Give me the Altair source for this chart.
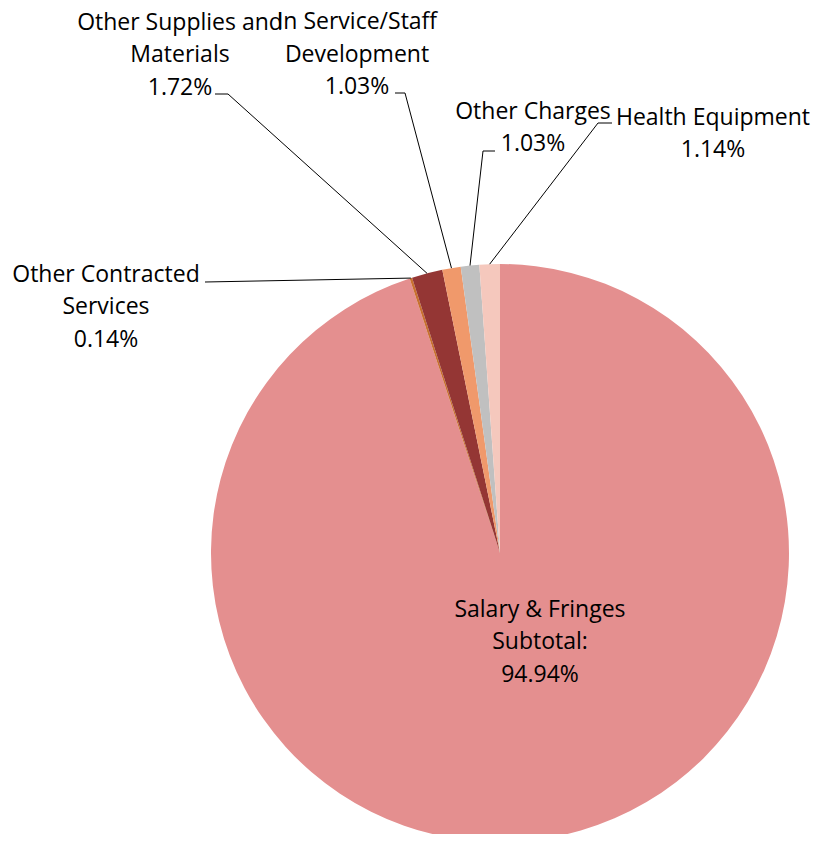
import math
import altair as alt
import pandas as pd

# ---- data ----
categories = ["Salary & Fringes Subtotal:", "Other Contracted Services",
              "Other Supplies and Materials", "In Service/Staff Development",
              "Other Charges", "Health Equipment"]
values = [94.94, 0.14, 1.72, 1.03, 1.03, 1.14]
colors = ["#E48F8F", "#C8702F", "#943634", "#F0996B", "#C0C0C0", "#F5C8BD"]

# label text lines
label_lines = [
    ["Salary & Fringes", "Subtotal:", "94.94%"],
    ["Other Contracted", "Services", "0.14%"],
    ["Other Supplies and", "Materials", "1.72%"],
    ["In Service/Staff", "Development", "1.03%"],
    ["Other Charges", "1.03%"],
    ["Health Equipment", "1.14%"],
]

# ---- layout (pixel positions within the chart) ----
OFF = 8
CX, CY, R = 500 - OFF, 553 - OFF, 289
LINE_H = 32.5
# (center x, first-line baseline y) of each label block
label_anchor = [(540, 616.5), (106, 281.5), (180, 29.5), (357, 29), (533, 118.5), (713, 124.5)]
# leader end: (elbow x, elbow y, tick end x)
leader_end = [None, (205, 282, 205), (228, 94, 215), (405, 93, 395), (483, 151, 495), (598, 123, 612)]

# ---- build tables ----
pie = pd.DataFrame({"cat": categories, "value": values, "idx": list(range(len(values)))})

rows = []
for i, lines in enumerate(label_lines):
    ax, ay = label_anchor[i]
    for j, t in enumerate(lines):
        rows.append({"txt": t, "px": ax - OFF, "py": ay - OFF + j * LINE_H})
texts = pd.DataFrame(rows)

total = sum(values)
cum = 0.0
lrows = []
for i, v in enumerate(values):
    mid = (cum + v / 2) / total * 2 * math.pi
    cum += v
    if leader_end[i] is None:
        continue
    sx = CX + R * math.sin(mid)
    sy = CY - R * math.cos(mid)
    ex, ey, tx = leader_end[i]
    lrows += [
        {"g": i, "s": 0, "px": sx, "py": sy},
        {"g": i, "s": 1, "px": ex - OFF, "py": ey - OFF},
        {"g": i, "s": 2, "px": tx - OFF, "py": ey - OFF},
    ]
leaders = pd.DataFrame(lrows)

arc = alt.Chart(pie).mark_arc(outerRadius=R).encode(
    theta=alt.Theta("value:Q", stack=True),
    color=alt.Color("cat:N", scale=alt.Scale(domain=categories, range=colors), legend=None),
    order=alt.Order("idx:Q"),
    x=alt.value(CX),
    y=alt.value(CY),
)

lines = alt.Chart(leaders).mark_line(color="#000000", strokeWidth=1).encode(
    x=alt.X("px:Q", scale=None, axis=None),
    y=alt.Y("py:Q", scale=None, axis=None),
    detail="g:N",
    order="s:Q",
)

labels = alt.Chart(texts).mark_text(
    font="Open Sans", fontSize=23, color="#000000", align="center", baseline="alphabetic"
).encode(
    x=alt.X("px:Q", scale=None, axis=None),
    y=alt.Y("py:Q", scale=None, axis=None),
    text="txt:N",
)

chart = alt.layer(arc, lines, labels).properties(
    width=806, height=826, padding=0,
    autosize=alt.AutoSizeParams(type="none"),
).configure_view(stroke=None)

chart.save("out.html", embed_options={"renderer": "svg", "actions": False})
